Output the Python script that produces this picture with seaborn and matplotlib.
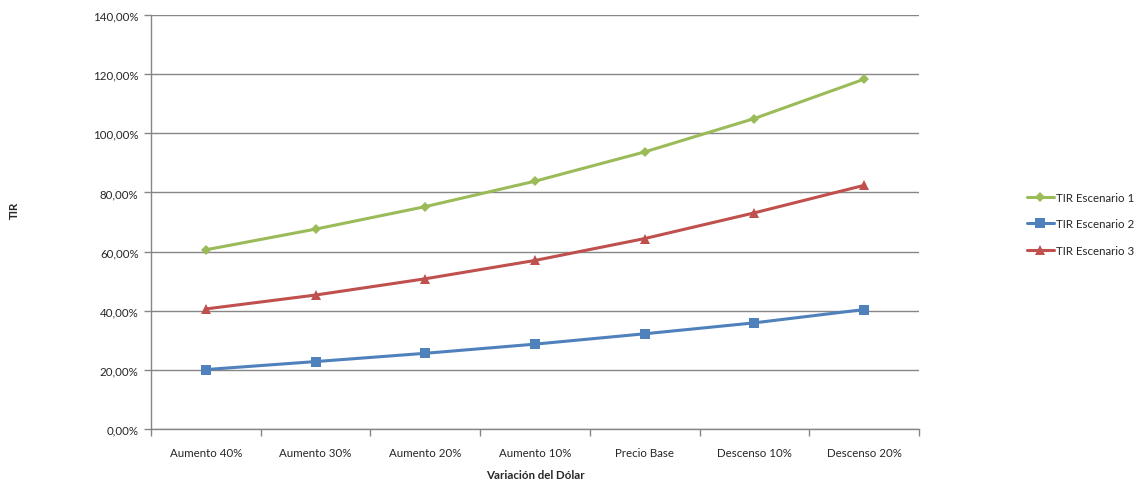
import matplotlib
matplotlib.use("Agg")
import matplotlib.pyplot as plt
import matplotlib.ticker as mticker
import seaborn as sns
import pandas as pd

categories = ["Aumento 40%", "Aumento 30%", "Aumento 20%", "Aumento 10%",
              "Precio Base", "Descenso 10%", "Descenso 20%"]
tir_escenario_1 = [60.6, 67.6, 75.2, 83.8, 93.7, 105.0, 118.3]
tir_escenario_2 = [20.1, 22.8, 25.6, 28.7, 32.2, 35.9, 40.4]
tir_escenario_3 = [40.6, 45.3, 50.8, 57.0, 64.4, 73.1, 82.4]
series_names = ["TIR Escenario 1", "TIR Escenario 2", "TIR Escenario 3"]
y_ticks = [0, 20, 40, 60, 80, 100, 120, 140]

colors = {"TIR Escenario 1": "#9BBB59",
          "TIR Escenario 2": "#4F81BD",
          "TIR Escenario 3": "#C0504D"}
markers = {"TIR Escenario 1": "D",
           "TIR Escenario 2": "s",
           "TIR Escenario 3": "^"}
sizes = {"TIR Escenario 1": 5.5, "TIR Escenario 2": 6.5, "TIR Escenario 3": 6.5}

rows = []
for name, vals in zip(series_names, [tir_escenario_1, tir_escenario_2, tir_escenario_3]):
    for cat, v in zip(categories, vals):
        rows.append({"Variación": cat, "TIR": v, "Serie": name})
df = pd.DataFrame(rows)

sns.set_theme(style="white")
plt.rcParams["font.family"] = ["Lato", "DejaVu Sans"]

fig = plt.figure(figsize=(11.37, 4.81), dpi=100)
ax = fig.add_axes([151 / 1137, 1 - 430 / 481, (919 - 151) / 1137, (430 - 16) / 481])

grid_color = "#868686"
text_color = "#262626"
ax.set_ylim(0, 140)
ax.set_xlim(-0.5, len(categories) - 0.5)
ax.set_yticks(y_ticks)
ax.yaxis.grid(True, color=grid_color, linewidth=1.0)
ax.set_axisbelow(True)

for name in series_names:
    sub = df[df["Serie"] == name]
    sns.lineplot(data=sub, x="Variación", y="TIR", ax=ax, color=colors[name],
                 marker=markers[name], markersize=sizes[name], markeredgewidth=0,
                 linewidth=2.2, sort=False, label=name)

ax.set_xticks(range(len(categories)))
ax.set_xticklabels(categories)
ax.set_xticks([i - 0.5 for i in range(len(categories) + 1)], minor=True)
ax.tick_params(axis="x", which="major", length=0, pad=13, labelsize=8.3, labelcolor=text_color)
ax.tick_params(axis="x", which="minor", bottom=True, length=5, width=1,
               color=grid_color, direction="out")
ax.tick_params(axis="y", which="major", left=True, length=5, width=1, color=grid_color,
               direction="out", labelsize=8.3, labelcolor=text_color, pad=4)
ax.yaxis.set_major_formatter(mticker.FuncFormatter(lambda v, p: f"{v:.2f}%".replace(".", ",")))

for side in ["top", "right"]:
    ax.spines[side].set_visible(False)
for side in ["left", "bottom"]:
    ax.spines[side].set_color(grid_color)
    ax.spines[side].set_linewidth(1.0)

ax.set_xlabel("Variación del Dólar", fontsize=8.3, fontweight="bold", color=text_color, labelpad=8)
ax.set_ylabel("")
fig.text(14 / 1137, 1 - 210 / 481, "TIR", rotation=90, fontsize=8.3, fontweight="bold",
         color=text_color, ha="center", va="center")

ax.legend(loc="center left", bbox_to_anchor=(1027 / 1137, 1 - 225 / 481),
          bbox_transform=fig.transFigure, frameon=False, fontsize=8.3,
          borderaxespad=0, borderpad=0, handlelength=2.3, handletextpad=0.25,
          labelspacing=1.35, labelcolor=text_color)

fig.savefig("out.png", dpi=100, facecolor="white")
